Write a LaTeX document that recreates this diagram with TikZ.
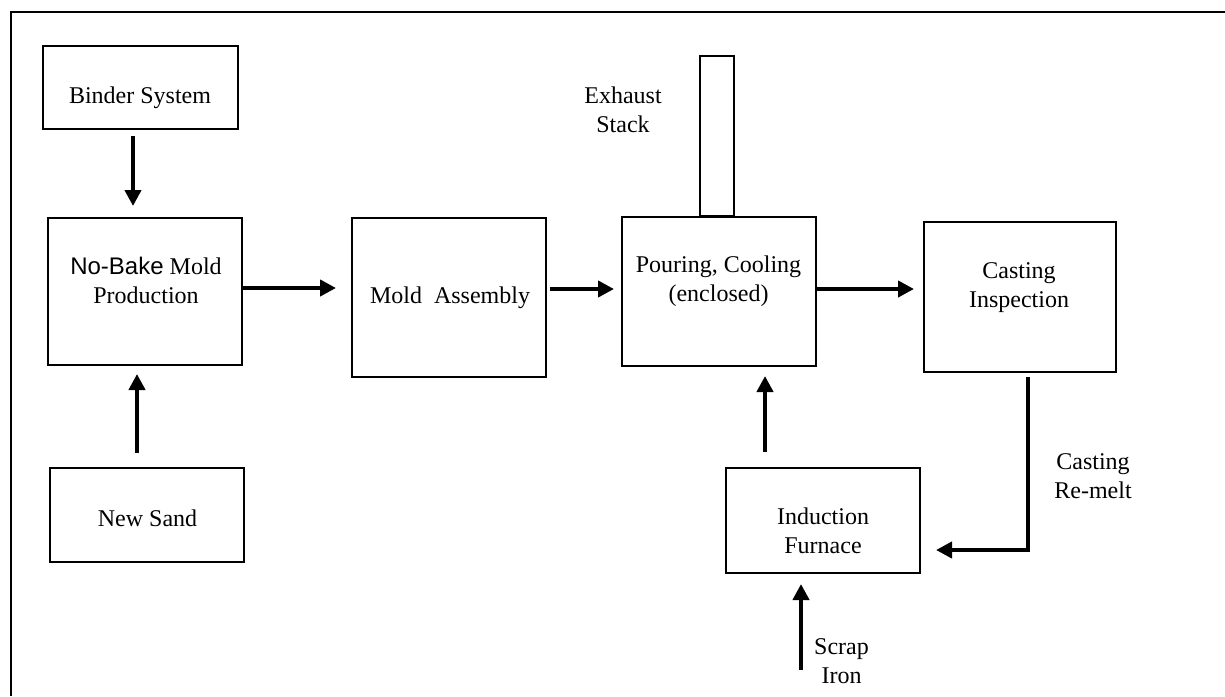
\documentclass[tikz,border=0pt]{standalone}
\usepackage{fontspec}
\setmainfont{Liberation Serif}
\newfontfamily\arialfont{Liberation Sans}
\usetikzlibrary{arrows.meta}
\tikzset{
  box/.style={draw, line width=1pt, inner sep=0pt},
  txt/.style={inner sep=0pt, align=center, font=\fontsize{12}{14.5}\selectfont},
  flow/.style={line width=2.25pt, -{Triangle[width=8pt,length=8pt]}},
}
\begin{document}
\begin{tikzpicture}[x=0.5pt,y=-0.5pt]
        \useasboundingbox (0,0) rectangle (1225,696);
        \draw[line width=1.2pt] (1225,12) -- (11,12) -- (11,696);

        % boxes
        \node[box, minimum width=97.5pt, minimum height=41.5pt] (binder) at (140.5,87.5) {};
        \node[box, minimum width=97pt, minimum height=73.5pt] (nobake) at (145,291.5) {};
        \node[box, minimum width=97pt, minimum height=47pt] (sand) at (147,515) {};
        \node[box, minimum width=97pt, minimum height=79.5pt] (mold) at (449,297.5) {};
        \node[box, minimum width=97pt, minimum height=74.5pt] (pour) at (719,291.5) {};
        \node[box, minimum width=17pt, minimum height=80pt] (stack) at (717,136) {};
        \node[box, minimum width=96pt, minimum height=75pt] (inspect) at (1020,297) {};
        \node[box, minimum width=97pt, minimum height=52.5pt] (furnace) at (823,520.5) {};

        % texts
        \node[txt] (bindertxt) at (140,97.5) {Binder System};
        \node[txt] (nobaketxt) at (146,280) {{\arialfont No-Bake} Mold\\Production};
        \node[txt] (sandtxt) at (147.5,518) {New Sand};
        \node[txt] (moldtxt) at (450,298) {Mold\ \ Assembly};
        \node[txt] (pourtxt) at (718.5,281) {Pouring, Cooling\\(enclosed)};
        \node[txt] (inspecttxt) at (1019,288) {Casting\\Inspection};
        \node[txt] (furnacetxt) at (823,531) {Induction\\Furnace};
        \node[txt] (stacktxt) at (623,109.5) {Exhaust\\Stack};
        \node[txt] (remelttxt) at (1093,476.5) {Casting\\Re-melt};
        \node[txt] (scraptxt) at (841.5,661) {Scrap\\Iron};
        \coordinate (scrapin) at (801,670);

        % flows
        \draw[flow, shorten <=3pt, shorten >=5.5pt] ([xshift=-3.75pt]binder.south) -- ([xshift=-6pt]nobake.north);
        \draw[flow, shorten <=7pt, shorten >=4pt] ([xshift=-5pt]sand.north) -- ([xshift=-4pt]nobake.south);
        \draw[flow, shorten >=7.5pt] ([yshift=1.75pt]nobake.east) -- ([yshift=4.75pt]mold.west);
        \draw[flow, shorten <=1.5pt, shorten >=3.5pt] ([yshift=4.25pt]mold.east) -- ([yshift=1.25pt]pour.west);
        \draw[flow, shorten >=4.5pt] ([yshift=1.25pt]pour.east) -- ([yshift=4pt]inspect.west);
        \draw[flow, shorten <=7.5pt, shorten >=4.5pt] ([xshift=-29pt]furnace.north) -- ([xshift=23pt]pour.south);
        \draw[flow, shorten <=2pt, shorten >=7.5pt] ([xshift=4pt]inspect.south) |- ([yshift=-14.75pt]furnace.east);
        \draw[flow, shorten >=5pt] (scrapin) -- ([xshift=-11pt]furnace.south);
\end{tikzpicture}
\end{document}
